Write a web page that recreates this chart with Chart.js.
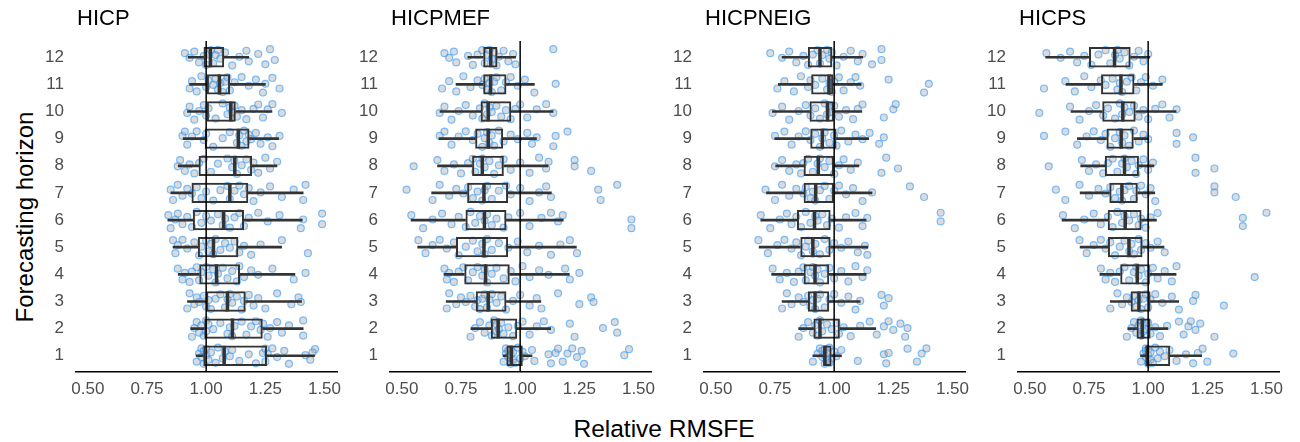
<!DOCTYPE html>
<html>
<head>
<meta charset="utf-8">
<script src="https://cdn.jsdelivr.net/npm/chart.js@4.4.1/dist/chart.umd.min.js"></script>
<style>
  body { margin: 0; background: #fff; font-family: "Liberation Sans", Arial, sans-serif; }
  #wrap { position: relative; width: 1300px; height: 442px; overflow: hidden; }
  canvas { position: absolute; top: 0; }
  .ttl { position: absolute; top: 7px; font-size: 22px; line-height: 22px; color: #000; }
  #ytitle { position: absolute; left: 25px; top: 217px; font-size: 24px; line-height: 24px; color: #000;
            transform: translate(-50%, -50%) rotate(-90deg); white-space: nowrap; }
  #xtitle { position: absolute; left: 664px; top: 417px; font-size: 24.5px; line-height: 24px; color: #000;
            transform: translateX(-50%); white-space: nowrap; }
</style>
</head>
<body>
<div id="wrap">
  <div id="ytitle">Forecasting horizon</div>
  <div id="xtitle">Relative RMSFE</div>
</div>
<script>
// panels and horizons
const categories = ['HICP', 'HICPMEF', 'HICPNEIG', 'HICPS'];
const horizons = [1, 2, 3, 4, 5, 6, 7, 8, 9, 10, 11, 12];
const xTicks = [0.5, 0.75, 1.0, 1.25, 1.5];

// box stats per horizon (1..12): [whisker low, q1, median, q3, whisker high]
const hicpBox = [
  [0.958, 0.988, 1.076, 1.257, 1.458], [0.935, 0.992, 1.111, 1.239, 1.41], [0.921, 1.0, 1.09, 1.167, 1.403],
  [0.882, 0.971, 1.044, 1.143, 1.375], [0.86, 0.965, 1.031, 1.136, 1.319], [0.838, 0.944, 1.074, 1.16, 1.406],
  [0.851, 0.938, 1.10, 1.178, 1.41], [0.882, 0.968, 1.121, 1.194, 1.299], [0.903, 0.994, 1.136, 1.183, 1.306],
  [0.921, 1.003, 1.104, 1.125, 1.278], [0.93, 1.003, 1.056, 1.101, 1.25], [0.924, 0.989, 1.018, 1.076, 1.18]
];
const hicpmefBox = [
  [0.928, 0.942, 0.9625, 1.011, 1.05], [0.792, 0.876, 0.907, 0.9875, 1.129], [0.6875, 0.8125, 0.865, 0.942, 1.0875],
  [0.678, 0.764, 0.854, 0.956, 1.208], [0.567, 0.729, 0.847, 0.949, 1.2375], [0.539, 0.769, 0.849, 0.942, 1.182],
  [0.626, 0.776, 0.847, 0.949, 1.132], [0.651, 0.797, 0.84, 0.931, 1.118], [0.657, 0.81, 0.865, 0.928, 1.069],
  [0.661, 0.833, 0.865, 0.9625, 1.139], [0.729, 0.844, 0.875, 0.942, 1.06], [0.779, 0.844, 0.876, 0.904, 0.981]
];
const hicpneigBox = [
  [0.91, 0.954, 0.961, 0.989, 1.031], [0.85, 0.9125, 0.94, 1.024, 1.176], [0.78, 0.889, 0.919, 0.979, 1.11],
  [0.736, 0.871, 0.919, 0.979, 1.135], [0.683, 0.857, 0.91, 0.985, 1.142], [0.69, 0.843, 0.917, 0.985, 1.135],
  [0.714, 0.871, 0.922, 0.999, 1.16], [0.753, 0.871, 0.933, 0.999, 1.104], [0.749, 0.899, 0.95, 1.01, 1.146],
  [0.739, 0.896, 0.972, 0.999, 1.117], [0.764, 0.903, 0.978, 0.996, 1.114], [0.78, 0.889, 0.94, 0.992, 1.121]
];
const hicpsBox = [
  [0.968, 0.99, 0.996, 1.093, 1.226], [0.914, 0.951, 0.975, 1.01, 1.083], [0.84, 0.926, 0.961, 1.01, 1.129],
  [0.796, 0.882, 0.954, 1.007, 1.118], [0.7125, 0.83, 0.919, 0.976, 1.067], [0.636, 0.829, 0.903, 0.972, 1.035],
  [0.7125, 0.836, 0.889, 0.956, 1.028], [0.715, 0.817, 0.9, 0.961, 1.024], [0.701, 0.824, 0.886, 0.939, 1.0],
  [0.674, 0.806, 0.893, 0.947, 1.118], [0.653, 0.801, 0.885, 0.942, 1.06], [0.567, 0.75, 0.858, 0.926, 1.007]
];

// individual relative RMSFE values per horizon (1..12)
const hicpPts = [
  [0.96,0.97,0.98,0.98,0.99,0.99,1.00,1.00,1.01,1.02,1.04,1.05,1.07,1.08,1.10,1.11,1.14,1.18,1.21,1.24,1.25,1.25,1.26,1.28,1.30,1.33,1.35,1.42,1.46,1.44,1.45],
  [0.94,0.95,0.96,0.97,0.98,0.99,1.00,1.00,1.01,1.03,1.06,1.09,1.10,1.11,1.12,1.15,1.17,1.19,1.21,1.23,1.24,1.26,1.27,1.30,1.32,1.35,1.41,1.41],
  [0.92,0.93,0.95,0.96,0.97,0.99,1.00,1.01,1.02,1.04,1.06,1.08,1.09,1.10,1.11,1.13,1.15,1.16,1.18,1.20,1.22,1.25,1.30,1.36,1.39,1.40],
  [0.88,0.90,0.91,0.93,0.94,0.96,0.97,0.98,1.00,1.01,1.03,1.04,1.05,1.07,1.09,1.11,1.13,1.14,1.16,1.19,1.22,1.28,1.37,1.42],
  [0.86,0.87,0.88,0.90,0.92,0.95,0.97,0.98,1.00,1.01,1.02,1.03,1.04,1.06,1.08,1.10,1.12,1.14,1.16,1.19,1.23,1.32,1.43],
  [0.84,0.85,0.87,0.88,0.90,0.92,0.94,0.96,0.98,1.00,1.02,1.05,1.07,1.08,1.10,1.12,1.14,1.16,1.18,1.22,1.26,1.31,1.40,1.41,1.49,1.49],
  [0.85,0.86,0.88,0.90,0.92,0.94,0.96,0.98,1.00,1.03,1.06,1.09,1.10,1.12,1.14,1.16,1.18,1.20,1.23,1.27,1.32,1.37,1.41,1.42],
  [0.88,0.89,0.91,0.93,0.95,0.97,0.99,1.02,1.05,1.09,1.11,1.12,1.13,1.15,1.17,1.19,1.20,1.22,1.25,1.27,1.30],
  [0.90,0.91,0.92,0.94,0.96,0.99,1.00,1.03,1.07,1.10,1.13,1.14,1.15,1.16,1.17,1.18,1.19,1.21,1.23,1.26,1.28,1.31],
  [0.92,0.93,0.95,0.97,0.99,1.00,1.01,1.04,1.07,1.09,1.10,1.11,1.12,1.13,1.15,1.17,1.20,1.22,1.24,1.26,1.28,1.32],
  [0.93,0.94,0.96,0.98,1.00,1.01,1.03,1.04,1.05,1.06,1.07,1.08,1.09,1.10,1.12,1.15,1.18,1.21,1.24,1.25,1.28,1.31],
  [0.91,0.93,0.95,0.97,0.99,1.00,1.01,1.02,1.03,1.04,1.05,1.06,1.08,1.11,1.14,1.17,1.18,1.22,1.25,1.27,1.29]
];
const hicpmefPts = [
  [0.93,0.94,0.94,0.95,0.95,0.96,0.96,0.96,0.97,0.97,0.98,0.99,1.00,1.01,1.02,1.05,1.06,1.12,1.13,1.15,1.16,1.18,1.20,1.22,1.24,1.26,1.27,1.44,1.46],
  [0.79,0.81,0.83,0.85,0.87,0.88,0.89,0.90,0.90,0.91,0.92,0.93,0.95,0.97,0.99,1.01,1.04,1.07,1.10,1.13,1.21,1.23,1.35,1.40,1.41],
  [0.69,0.70,0.73,0.75,0.77,0.79,0.81,0.82,0.83,0.84,0.85,0.86,0.87,0.88,0.90,0.92,0.94,0.97,1.00,1.04,1.07,1.09,1.16,1.25,1.30,1.31],
  [0.68,0.69,0.70,0.72,0.74,0.76,0.78,0.80,0.82,0.84,0.85,0.86,0.88,0.90,0.93,0.96,0.98,1.01,1.04,1.08,1.12,1.19,1.21,1.25],
  [0.57,0.60,0.63,0.66,0.69,0.72,0.74,0.77,0.80,0.82,0.84,0.85,0.86,0.88,0.91,0.95,0.99,1.03,1.08,1.13,1.17,1.21,1.24],
  [0.54,0.59,0.63,0.67,0.71,0.74,0.77,0.79,0.81,0.83,0.85,0.86,0.88,0.90,0.93,0.95,1.00,1.04,1.09,1.13,1.16,1.18,1.47,1.47],
  [0.52,0.63,0.66,0.70,0.73,0.76,0.78,0.80,0.82,0.84,0.85,0.86,0.88,0.91,0.94,0.96,1.00,1.04,1.08,1.11,1.13,1.33,1.34,1.41],
  [0.55,0.65,0.68,0.72,0.75,0.78,0.80,0.81,0.83,0.84,0.85,0.87,0.89,0.91,0.93,0.96,1.00,1.04,1.08,1.11,1.12,1.23,1.23,1.30],
  [0.66,0.68,0.71,0.74,0.77,0.80,0.82,0.84,0.85,0.86,0.87,0.88,0.89,0.91,0.93,0.96,0.99,1.03,1.05,1.07,1.14,1.15,1.20],
  [0.66,0.68,0.71,0.74,0.77,0.80,0.83,0.84,0.85,0.86,0.87,0.88,0.90,0.92,0.94,0.96,0.98,1.00,1.03,1.07,1.11,1.14],
  [0.67,0.70,0.73,0.76,0.79,0.82,0.84,0.85,0.86,0.87,0.88,0.89,0.90,0.92,0.94,0.96,0.99,1.02,1.06,1.15],
  [0.68,0.70,0.72,0.73,0.78,0.80,0.82,0.84,0.85,0.86,0.87,0.88,0.89,0.90,0.91,0.93,0.95,0.97,0.98,1.14]
];
const hicpneigPts = [
  [0.91,0.93,0.94,0.95,0.95,0.96,0.96,0.96,0.97,0.97,0.98,0.98,0.99,1.00,1.01,1.03,1.10,1.21,1.22,1.23,1.31,1.35,1.37,1.39],
  [0.85,0.87,0.89,0.91,0.92,0.93,0.94,0.95,0.97,0.99,1.01,1.02,1.04,1.07,1.11,1.15,1.18,1.21,1.23,1.25,1.28,1.30,1.31],
  [0.78,0.80,0.82,0.85,0.87,0.89,0.90,0.91,0.92,0.93,0.94,0.96,0.98,1.00,1.03,1.06,1.09,1.11,1.20,1.21,1.23],
  [0.74,0.77,0.80,0.83,0.85,0.87,0.88,0.90,0.91,0.92,0.93,0.94,0.96,0.98,1.00,1.03,1.06,1.09,1.12,1.14],
  [0.68,0.72,0.76,0.79,0.82,0.84,0.86,0.88,0.89,0.91,0.92,0.94,0.96,0.98,1.00,1.03,1.06,1.10,1.13,1.14],
  [0.69,0.73,0.77,0.80,0.82,0.84,0.86,0.88,0.90,0.92,0.93,0.95,0.97,0.99,1.02,1.05,1.09,1.12,1.14,1.45,1.45],
  [0.71,0.75,0.78,0.81,0.84,0.87,0.88,0.90,0.91,0.92,0.94,0.96,0.98,1.00,1.02,1.05,1.08,1.12,1.16,1.32,1.38],
  [0.75,0.78,0.81,0.84,0.86,0.87,0.89,0.91,0.93,0.94,0.96,0.98,1.00,1.02,1.04,1.07,1.10,1.20,1.22,1.27],
  [0.75,0.79,0.82,0.85,0.88,0.90,0.92,0.94,0.95,0.96,0.98,1.00,1.01,1.03,1.06,1.09,1.12,1.15,1.19,1.21],
  [0.74,0.78,0.81,0.85,0.88,0.90,0.92,0.94,0.96,0.97,0.98,0.99,1.00,1.02,1.05,1.08,1.10,1.12,1.21,1.25,1.26],
  [0.76,0.79,0.83,0.86,0.89,0.90,0.92,0.95,0.97,0.98,0.99,1.00,1.02,1.04,1.07,1.09,1.11,1.23,1.38,1.40],
  [0.73,0.78,0.81,0.84,0.87,0.89,0.91,0.93,0.94,0.95,0.97,0.98,0.99,1.01,1.04,1.07,1.10,1.12,1.16,1.20,1.20]
];
const hicpsPts = [
  [0.97,0.98,0.99,0.99,0.99,1.00,1.00,1.00,1.01,1.01,1.02,1.03,1.04,1.05,1.07,1.09,1.12,1.16,1.19,1.21,1.23,1.25,1.36],
  [0.91,0.93,0.94,0.95,0.96,0.97,0.97,0.98,0.98,0.99,1.00,1.01,1.03,1.05,1.08,1.13,1.15,1.17,1.18,1.20,1.22,1.28],
  [0.84,0.87,0.89,0.91,0.93,0.94,0.95,0.96,0.97,0.98,0.99,1.00,1.01,1.03,1.06,1.10,1.13,1.19,1.20,1.32],
  [0.80,0.82,0.84,0.86,0.88,0.90,0.92,0.94,0.95,0.96,0.97,0.99,1.00,1.02,1.04,1.07,1.10,1.12,1.45],
  [0.71,0.74,0.77,0.80,0.82,0.84,0.86,0.88,0.90,0.92,0.93,0.94,0.96,0.97,0.99,1.01,1.04,1.07],
  [0.64,0.69,0.73,0.77,0.80,0.83,0.85,0.87,0.89,0.90,0.92,0.94,0.96,0.97,0.99,1.01,1.04,1.40,1.40,1.50],
  [0.61,0.65,0.71,0.75,0.79,0.82,0.84,0.86,0.88,0.89,0.90,0.92,0.94,0.95,0.97,0.99,1.01,1.03,1.28,1.28,1.37],
  [0.58,0.72,0.75,0.78,0.81,0.83,0.85,0.87,0.89,0.90,0.91,0.93,0.95,0.96,0.98,1.00,1.02,1.20,1.20,1.28],
  [0.56,0.65,0.70,0.74,0.77,0.80,0.82,0.84,0.86,0.88,0.89,0.90,0.92,0.94,0.96,0.98,1.00,1.12,1.12,1.19],
  [0.54,0.67,0.71,0.75,0.78,0.81,0.83,0.86,0.88,0.89,0.90,0.92,0.94,0.96,0.98,1.00,1.03,1.06,1.09,1.12],
  [0.56,0.65,0.69,0.73,0.76,0.80,0.82,0.85,0.87,0.88,0.89,0.91,0.93,0.95,0.97,0.99,1.02,1.06],
  [0.57,0.63,0.67,0.70,0.73,0.76,0.79,0.82,0.84,0.86,0.87,0.88,0.90,0.92,0.94,0.96,0.98,1.00]
];

const panelBoxes = [hicpBox, hicpmefBox, hicpneigBox, hicpsBox];
const panelPts = [hicpPts, hicpmefPts, hicpneigPts, hicpsPts];

// fixed vertical spread pattern for the dots (in row units)
const spread = [-0.22, 0.08, 0.27, -0.05, 0.18, -0.3, 0.02, 0.24, -0.15, 0.12, -0.26, 0.3, -0.1, 0.15, -0.02, 0.21, -0.19, 0.05, -0.28, 0.1, 0.26];

const tickFont = { family: '"Liberation Sans", Arial, sans-serif', size: 17 };
const dark = '#333333';

function drawPanel(i) {
  const plotLeft = 76 + i * 314;
  const canvas = document.createElement('canvas');
  canvas.width = 335;
  canvas.height = 410;
  canvas.style.left = (plotLeft - 60) + 'px';
  document.getElementById('wrap').appendChild(canvas);

  const t = document.createElement('div');
  t.className = 'ttl';
  t.style.left = (plotLeft + 1) + 'px';
  t.textContent = categories[i];
  document.getElementById('wrap').appendChild(t);

  const box = panelBoxes[i];
  const pts = [];
  panelPts[i].forEach((row, r) => {
    row.forEach((v, k) => pts.push({ x: v, y: horizons[r] + spread[(k + r * 5) % spread.length] }));
  });

  new Chart(canvas, {
    type: 'scatter',
    data: {
      datasets: [
        {
          type: 'line', data: [{ x: 1, y: 0.4 }, { x: 1, y: 12.6 }],
          borderColor: '#000', borderWidth: 1.5, pointRadius: 0, fill: false
        },
        {
          type: 'scatter',
          data: horizons.map((h, r) => ({ x: box[r][2], y: h })),
          pointStyle: 'line', rotation: 90, radius: 10, borderWidth: 3.5,
          borderColor: dark, backgroundColor: dark
        },
        {
          type: 'bar', indexAxis: 'y', grouped: false,
          data: horizons.map((h, r) => ({ x: [box[r][1], box[r][3]], y: h })),
          backgroundColor: 'rgba(0,0,0,0)', borderColor: dark, borderWidth: 2,
          borderSkipped: false, barPercentage: 0.75, categoryPercentage: 1
        },
        {
          type: 'bar', indexAxis: 'y', grouped: false,
          data: horizons.map((h, r) => ({ x: [box[r][0], box[r][1]], y: h })),
          backgroundColor: dark, borderWidth: 0, barThickness: 2
        },
        {
          type: 'bar', indexAxis: 'y', grouped: false,
          data: horizons.map((h, r) => ({ x: [box[r][3], box[r][4]], y: h })),
          backgroundColor: dark, borderWidth: 0, barThickness: 2
        },
        {
          type: 'scatter', data: pts,
          pointRadius: 3.5, borderWidth: 1.2,
          backgroundColor: 'rgba(175,175,175,0.45)',
          borderColor: 'rgba(30,144,255,0.55)'
        }
      ]
    },
    options: {
      responsive: false,
      animation: false,
      events: [],
      devicePixelRatio: 1,
      layout: { padding: { top: 41, right: 10, left: 0, bottom: 0 } },
      plugins: { legend: { display: false }, tooltip: { enabled: false } },
      scales: {
        x: {
          type: 'linear', min: 0.45, max: 1.555, offset: false,
          afterBuildTicks: s => { s.ticks = xTicks.map(v => ({ value: v })); },
          afterFit: s => { s.height = 38; },
          grid: { display: false, drawTicks: false, offset: false },
          border: { display: true, color: '#000', width: 1.5 },
          ticks: { font: tickFont, color: '#4d4d4d', padding: 7, maxRotation: 0,
                   callback: v => v.toFixed(2) }
        },
        y: {
          type: 'linear', min: 0.4, max: 12.6, offset: false,
          afterBuildTicks: s => { s.ticks = horizons.map(v => ({ value: v })); },
          afterFit: s => { s.width = 60; },
          grid: { display: false, drawTicks: false, offset: false },
          border: { display: false },
          ticks: { font: tickFont, color: '#4d4d4d', padding: 12, callback: v => String(v) }
        }
      }
    }
  });
}

categories.forEach((c, i) => drawPanel(i));
</script>
</body>
</html>
